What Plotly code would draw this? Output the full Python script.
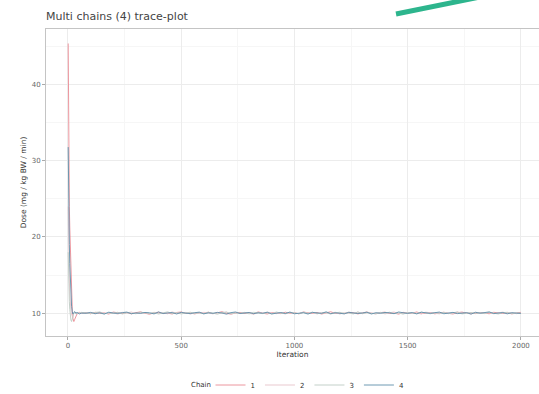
import plotly.graph_objects as go

# ---- data ----
early_iter = [1, 2, 4, 6, 8, 10, 13, 16, 19, 22, 26, 30, 35, 40, 50, 60]
tail_iter = list(range(80, 2001, 20))
iterations = early_iter + tail_iter

chain1_early = [45.4, 38.0, 30.5, 24.0, 21.3, 18.5, 15.0, 12.2, 10.4, 9.3, 8.9, 9.2, 9.6, 9.9, 10.1, 10.0]
chain2_early = [24.0, 20.5, 17.0, 14.5, 12.5, 11.2, 10.4, 9.9, 9.6, 9.8, 10.0, 10.1, 10.0, 9.9, 10.1, 10.0]
chain3_early = [18.0, 15.5, 13.0, 11.5, 10.5, 9.6, 9.1, 8.9, 9.3, 9.7, 10.0, 10.1, 9.9, 10.0, 10.0, 10.1]
chain4_early = [31.8, 27.0, 22.5, 19.0, 16.5, 14.4, 12.3, 10.9, 10.2, 9.9, 10.1, 10.2, 10.0, 10.1, 9.9, 10.0]

chain1_tail = [10.05, 9.92, 10.11, 9.97, 10.03, 9.88, 10.14, 10.02, 9.95, 10.08,
               9.91, 10.06, 10.17, 9.99, 9.86, 10.04, 10.12, 9.94, 10.01, 9.89,
               10.09, 10.15, 9.96, 10.03, 9.90, 10.07, 9.98, 10.13, 9.93, 10.05,
               10.19, 9.97, 9.87, 10.02, 10.10, 9.95, 10.06, 9.92, 10.16, 10.00,
               9.89, 10.08, 10.03, 9.94, 10.12, 9.99, 10.05, 9.91, 10.14, 10.02,
               9.96, 10.09, 9.88, 10.04, 10.18, 9.97, 10.01, 9.93, 10.11, 10.06,
               9.90, 10.03, 10.15, 9.98, 9.92, 10.07, 10.13, 9.95, 10.02, 9.87,
               10.10, 10.04, 9.96, 10.16, 9.93, 10.00, 10.08, 9.91, 10.05, 10.12,
               9.97, 9.89, 10.06, 10.14, 9.99, 10.03, 9.94, 10.09, 10.01, 9.92,
               10.11, 10.05, 9.96, 10.07, 9.90, 10.02, 10.10]
chain2_tail = [9.96, 10.08, 9.90, 10.13, 10.01, 9.94, 10.06, 9.87, 10.10, 10.03,
               10.15, 9.93, 10.00, 10.07, 9.89, 10.12, 9.97, 10.04, 9.91, 10.16,
               9.98, 10.02, 10.09, 9.88, 10.05, 9.95, 10.11, 10.01, 9.92, 10.07,
               9.99, 10.14, 9.90, 10.04, 9.96, 10.10, 10.02, 9.86, 10.08, 9.97,
               10.13, 10.00, 9.93, 10.06, 9.89, 10.11, 10.03, 9.95, 10.17, 9.98,
               10.04, 9.91, 10.09, 10.01, 9.94, 10.12, 9.88, 10.05, 10.00, 9.96,
               10.14, 9.92, 10.07, 10.02, 9.97, 10.10, 9.90, 10.05, 10.15, 9.93,
               10.01, 10.08, 9.95, 10.03, 9.89, 10.12, 10.06, 9.98, 9.91, 10.09,
               10.04, 9.94, 10.16, 9.99, 10.02, 9.87, 10.11, 10.05, 9.96, 10.08,
               9.92, 10.03, 10.13, 9.97, 10.06, 9.93, 10.01]
chain3_tail = [10.02, 9.94, 10.09, 10.15, 9.91, 10.04, 9.98, 10.11, 9.89, 10.06,
               10.00, 9.93, 10.13, 10.05, 9.96, 10.08, 9.88, 10.03, 10.17, 9.95,
               10.07, 9.90, 10.02, 10.12, 9.97, 10.04, 9.92, 10.10, 10.01, 9.86,
               10.09, 10.14, 9.95, 10.03, 9.99, 10.07, 9.91, 10.11, 10.02, 9.94,
               10.06, 9.89, 10.15, 10.00, 9.96, 10.08, 10.04, 9.92, 10.10, 9.97,
               10.13, 9.93, 10.01, 10.07, 9.88, 10.05, 10.11, 9.98, 10.03, 9.90,
               10.16, 9.95, 10.06, 10.02, 9.91, 10.09, 9.99, 10.12, 9.94, 10.04,
               9.87, 10.08, 10.01, 9.96, 10.14, 10.03, 9.92, 10.07, 9.98, 10.10,
               9.93, 10.05, 10.15, 9.90, 10.02, 10.09, 9.97, 10.04, 9.94, 10.12,
               10.00, 9.89, 10.06, 10.11, 9.95, 10.03, 9.98]
chain4_tail = [9.99, 10.10, 9.93, 10.04, 9.88, 10.12, 10.01, 9.96, 10.07, 10.14,
               9.92, 10.03, 9.97, 10.09, 10.05, 9.90, 10.16, 9.95, 10.02, 10.08,
               9.89, 10.11, 10.00, 9.94, 10.06, 10.13, 9.91, 10.04, 9.98, 10.10,
               10.02, 9.87, 10.07, 10.15, 9.95, 10.01, 10.09, 9.93, 10.05, 9.99,
               10.12, 9.90, 10.04, 10.08, 9.96, 10.14, 9.92, 10.02, 10.06, 9.88,
               10.10, 10.03, 9.97, 10.17, 9.94, 10.05, 10.00, 9.91, 10.11, 10.07,
               9.95, 10.02, 10.13, 9.89, 10.06, 9.98, 10.09, 10.04, 9.93, 10.15,
               10.01, 9.96, 10.08, 9.90, 10.12, 10.03, 9.97, 10.06, 10.14, 9.92,
               10.04, 10.10, 9.94, 10.01, 10.07, 9.88, 10.11, 9.99, 10.05, 10.16,
               9.95, 10.03, 10.08, 9.91, 10.06, 10.00, 9.97]

chains = ["1", "2", "3", "4"]
chain_values = [chain1_early + chain1_tail,
                chain2_early + chain2_tail,
                chain3_early + chain3_tail,
                chain4_early + chain4_tail]
chain_colors = ["#ea8a93", "#e6c3c9", "#bccbc3", "#5f8faa"]

x_ticks = [0, 500, 1000, 1500, 2000]
y_ticks = [10, 20, 30, 40]

fig = go.Figure()
for name, vals, col in zip(chains, chain_values, chain_colors):
    fig.add_trace(go.Scatter(x=iterations, y=vals, mode="lines", name=name,
                             line=dict(color=col, width=0.9)))

font_family = "DejaVu Sans, Liberation Sans, sans-serif"
fig.update_layout(
    width=539, height=394,
    margin=dict(l=46, r=0, t=29, b=58, autoexpand=False),
    paper_bgcolor="white", plot_bgcolor="white",
    font=dict(family=font_family, size=7, color="#555555"),
    title=dict(text="Multi chains (4) trace-plot", x=0.0, xref="paper", xanchor="left",
               y=1 - 16 / 394, yanchor="middle", yref="container",
               font=dict(size=11, color="#444444")),
    legend=dict(orientation="h", x=(310 - 46) / 493, xanchor="center",
                y=-(385 - 336) / 307, yanchor="middle",
                font=dict(size=7, color="#333333"), itemwidth=30, tracegroupgap=0),
    showlegend=True,
)
fig.add_annotation(text="Chain", xref="paper", yref="paper",
                   x=(213 - 46) / 493, y=-(385 - 336) / 307,
                   xanchor="right", yanchor="middle", showarrow=False,
                   font=dict(size=7, color="#333333"))
fig.update_xaxes(
    range=[-97, 2080], tickvals=x_ticks, ticktext=[str(v) for v in x_ticks],
    automargin=False,
    showgrid=True, gridcolor="#ececec", gridwidth=1,
    minor=dict(dtick=250, tick0=0, showgrid=True, gridcolor="#f6f6f6", ticks=""),
    showline=True, linecolor="#c4c4c4", linewidth=1, mirror=True,
    ticks="outside", ticklen=3, tickcolor="#aaaaaa",
    zeroline=False,
    title=dict(text="Iteration", standoff=2, font=dict(size=7.5, color="#333333")),
    tickfont=dict(size=7, color="#666666"),
)
fig.update_yaxes(
    range=[7.0, 47.3], tickvals=y_ticks, ticktext=[str(v) for v in y_ticks],
    automargin=False,
    showgrid=True, gridcolor="#ececec", gridwidth=1,
    minor=dict(dtick=5, tick0=0, showgrid=True, gridcolor="#f6f6f6", ticks=""),
    showline=True, linecolor="#c4c4c4", linewidth=1, mirror=False,
    ticks="outside", ticklen=3, tickcolor="#aaaaaa",
    zeroline=False,
    title=dict(text="Dose (mg / kg BW / min)", standoff=4, font=dict(size=7.5, color="#333333")),
    tickfont=dict(size=7, color="#666666"),
)

# stray teal stroke at the top of the picture (decoration)
fig.add_shape(type="line", xref="paper", yref="paper",
              x0=(396 - 46) / 493, y0=(336 - 14) / 307,
              x1=(480 - 46) / 493, y1=(336 + 3) / 307,
              line=dict(color="#2db58d", width=5))

fig.write_html("out.html", config={"displayModeBar": False},
               post_script="document.body.style.margin='0';document.body.style.overflow='hidden';")
